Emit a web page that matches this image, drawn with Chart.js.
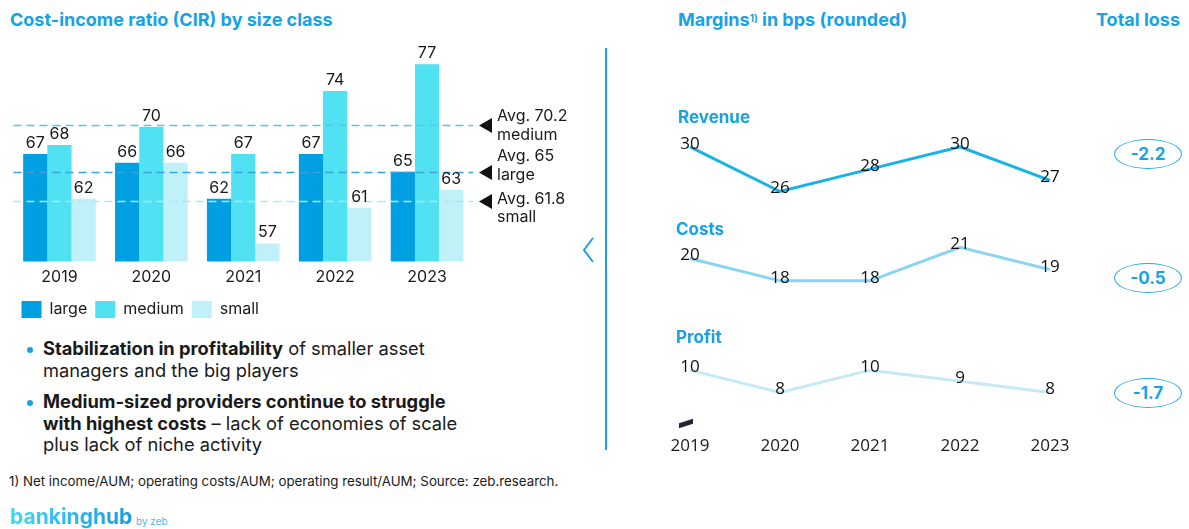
<!DOCTYPE html>
<html><head><meta charset="utf-8">
<script src="https://cdn.jsdelivr.net/npm/chart.js@4"></script>
<style>
body{margin:0;width:1189px;height:529px;overflow:hidden;background:#fff;font-family:Inter,'Noto Sans',sans-serif;position:relative;color:#1a1a1a;}
.abs{position:absolute;white-space:nowrap;}
.title{color:#17a2e4;font-weight:700;font-size:18px;line-height:20px;}
.sub{color:#17a2e4;font-weight:700;font-size:17px;line-height:20px;}
.bul{font-size:18.3px;line-height:21.5px;color:#1a1a1a;}
.bul b{font-weight:700;}
.dot{position:absolute;width:6px;height:6px;border-radius:50%;background:#17a2e4;}
.oval{position:absolute;width:66px;height:28px;border:1px solid #2aa8e6;border-radius:50%;color:#17a2e4;font-weight:700;font-size:17px;line-height:28px;text-align:center;}
sup{font-size:10px;vertical-align:top;position:relative;top:-2px;}
</style></head><body>
<div class="abs title" style="left:10px;top:10px;">Cost-income ratio (CIR) by size class</div>
<div class="abs title" style="left:678px;top:10px;">Margins<sup>1)</sup> in bps (rounded)</div>
<div class="abs title" style="left:1096px;top:10px;">Total loss</div>

<canvas id="bars" class="abs" width="570" height="298" style="left:0;top:30px;"></canvas>
<canvas id="lines" class="abs" width="450" height="363" style="left:640px;top:109px;"></canvas>

<div class="abs" style="left:605px;top:48px;width:2px;height:402px;background:#1aa3e3;"></div>
<svg class="abs" style="left:580px;top:236px;" width="18" height="30"><polyline points="13,2 4,14 13,26" fill="none" stroke="#1aa3e3" stroke-width="2"/></svg>
<div class="abs" style="left:679px;top:421px;width:14px;height:5px;background:#1c2736;transform:skewY(-18deg);"></div>

<div class="abs sub" style="left:678px;top:107px;">Revenue</div>
<div class="abs sub" style="left:676px;top:219px;">Costs</div>
<div class="abs sub" style="left:676px;top:327px;">Profit</div>

<div id="ovals"></div>

<div class="dot" style="left:27px;top:347px;"></div>
<div class="abs bul" style="left:43px;top:338px;"><b>Stabilization in profitability</b> of smaller asset<br>managers and the big players</div>
<div class="dot" style="left:27px;top:400px;"></div>
<div class="abs bul" style="left:43px;top:391px;"><b>Medium-sized providers continue to struggle<br>with highest costs</b> – lack of economies of scale<br>plus lack of niche activity</div>

<div class="abs" style="left:9px;top:473px;font-size:13.3px;color:#1a1a1a;">1) Net income/AUM; operating costs/AUM; operating result/AUM; Source: zeb.research.</div>
<div class="abs" style="left:10px;top:504px;font-size:21px;font-weight:700;background:linear-gradient(90deg,#3fd8f0,#1a9be0);-webkit-background-clip:text;background-clip:text;color:transparent;">bankinghub</div>
<div class="abs" style="left:136px;top:515px;font-size:10px;color:#4fb6e8;">by zeb</div>

<script>
const years = ['2019', '2020', '2021', '2022', '2023'];
const cirLarge = [67, 66, 62, 67, 65];
const cirMedium = [68, 70, 67, 74, 77];
const cirSmall = [62, 66, 57, 61, 63];
const avgNames = ['medium', 'large', 'small'];
const avgValues = [70.2, 65, 61.8];
const marginRevenue = [30, 26, 28, 30, 27];
const marginCosts = [20, 18, 18, 21, 19];
const marginProfit = [10, 8, 10, 9, 8];
const totalLoss = ['-2.2', '-0.5', '-1.7'];

const FONT = 'Inter, "Noto Sans", sans-serif';
Chart.defaults.font.family = FONT;
Chart.defaults.color = '#1a1a1a';

const ovalTops = [139, 263, 378];
document.getElementById('ovals').innerHTML = totalLoss.map((t, i) =>
  `<div class="oval" style="left:1114px;top:${ovalTops[i]}px;">${t}</div>`).join('');

const barValueLabels = {
  id: 'barValueLabels',
  afterDatasetsDraw(chart) {
    const ctx = chart.ctx;
    ctx.save();
    ctx.font = '16px ' + FONT;
    ctx.fillStyle = '#1a1a1a';
    ctx.textAlign = 'center';
    ctx.textBaseline = 'bottom';
    chart.data.datasets.forEach((ds, i) => {
      chart.getDatasetMeta(i).data.forEach((el, j) => {
        ctx.fillText(String(ds.data[j]), el.x, el.y - 3);
      });
    });
    ctx.restore();
  }
};

const avgColors = ['#55c6ee', '#3aa2da', '#ade6f5'];
const avgTextOffsets = [[-9, 10], [-16, 3], [-2, 16]];
const avgLines = {
  id: 'avgLines',
  afterDatasetsDraw(chart) {
    const ctx = chart.ctx;
    const y = chart.scales.y;
    const area = chart.chartArea;
    ctx.save();
    avgValues.forEach((v, i) => {
      const py = Math.round(y.getPixelForValue(v)) + 0.5;
      ctx.strokeStyle = avgColors[i];
      ctx.lineWidth = 1.5;
      ctx.setLineDash([8, 5]);
      ctx.beginPath();
      ctx.moveTo(area.left, py);
      ctx.lineTo(area.right, py);
      ctx.stroke();
      ctx.setLineDash([]);
      ctx.fillStyle = '#111';
      ctx.beginPath();
      ctx.moveTo(area.right + 6, py);
      ctx.lineTo(area.right + 19, py - 7.5);
      ctx.lineTo(area.right + 19, py + 7.5);
      ctx.closePath();
      ctx.fill();
      ctx.font = '16px ' + FONT;
      ctx.fillStyle = '#1a1a1a';
      ctx.textAlign = 'left';
      ctx.textBaseline = 'middle';
      ctx.fillText('Avg. ' + v, area.right + 24, py + avgTextOffsets[i][0]);
      ctx.fillText(avgNames[i], area.right + 24, py + avgTextOffsets[i][1]);
    });
    ctx.restore();
  }
};

new Chart(document.getElementById('bars'), {
  type: 'bar',
  data: {
    labels: years,
    datasets: [
      { label: 'large', data: cirLarge, backgroundColor: '#009fe1' },
      { label: 'medium', data: cirMedium, backgroundColor: '#50e1f2' },
      { label: 'small', data: cirSmall, backgroundColor: '#c0f1f8' }
    ]
  },
  options: {
    responsive: false,
    animation: false,
    layout: { padding: { left: 13.5, right: 97, top: 7.3, bottom: 0 } },
    datasets: { bar: { barPercentage: 1, categoryPercentage: 0.79, borderWidth: 0 } },
    scales: {
      x: {
        grid: { display: false, drawTicks: false },
        border: { display: false },
        ticks: { padding: 6, font: { size: 16 }, color: '#1a1a1a' },
        afterFit(scale) { scale.height += 0.3; }
      },
      y: { display: false, min: 55, max: 80 }
    },
    plugins: {
      legend: {
        position: 'bottom',
        align: 'start',
        labels: { boxWidth: 20, boxHeight: 17, padding: 8, font: { size: 16 }, color: '#1a1a1a' }
      },
      tooltip: { enabled: false }
    }
  },
  plugins: [avgLines, barValueLabels]
});

const lineValueLabels = {
  id: 'lineValueLabels',
  afterDatasetsDraw(chart) {
    const ctx = chart.ctx;
    ctx.save();
    ctx.font = '17px "Open Sans", "Noto Sans", sans-serif';
    ctx.fillStyle = '#111';
    ctx.textAlign = 'center';
    ctx.textBaseline = 'middle';
    chart.data.datasets.forEach((ds, i) => {
      chart.getDatasetMeta(i).data.forEach((el, j) => {
        ctx.fillText(String(ds.data[j]), el.x, el.y - 3);
      });
    });
    ctx.restore();
  }
};

new Chart(document.getElementById('lines'), {
  type: 'line',
  data: {
    labels: years,
    datasets: [
      { label: 'Revenue', data: marginRevenue, borderColor: '#16b3ea', borderWidth: 3 },
      { label: 'Costs', data: marginCosts, borderColor: '#8ad4f3', borderWidth: 3 },
      { label: 'Profit', data: marginProfit, borderColor: '#c6e9f9', borderWidth: 3 }
    ]
  },
  options: {
    responsive: false,
    animation: false,
    layout: { padding: { left: 50, right: 40, top: 15.5, bottom: 5.6 } },
    elements: { point: { radius: 0 }, line: { tension: 0, borderCapStyle: 'butt' } },
    scales: {
      x: {
        offset: false,
        grid: { display: false, drawTicks: false },
        border: { display: false },
        ticks: { padding: 10, font: { size: 17, family: '"Open Sans", "Noto Sans", sans-serif' }, color: '#1a1a1a' }
      },
      y: { display: false, min: 5, max: 32 }
    },
    plugins: { legend: { display: false }, tooltip: { enabled: false } }
  },
  plugins: [lineValueLabels]
});
</script>
</body></html>
